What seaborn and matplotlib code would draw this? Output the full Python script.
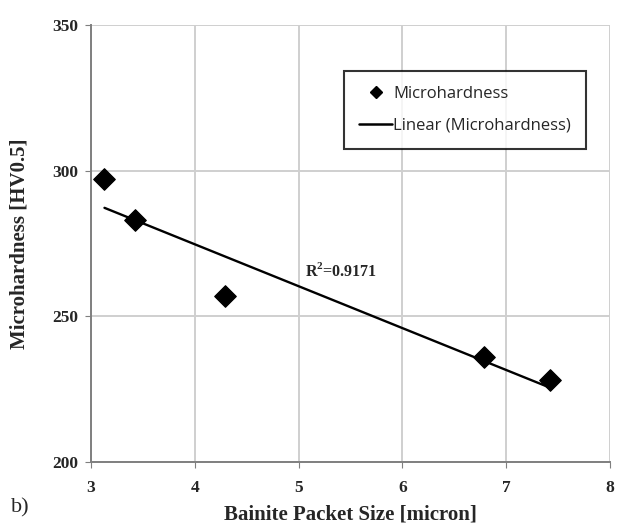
import numpy as np
import pandas as pd
import matplotlib
matplotlib.use("Agg")
import matplotlib.pyplot as plt
import seaborn as sns
from matplotlib.lines import Line2D

# Data
packet_size = [3.13, 3.42, 4.29, 6.79, 7.42]
microhardness = [297, 283, 257, 236, 228]
x_ticks = [3, 4, 5, 6, 7, 8]
y_ticks = [200, 250, 300, 350]
r2_text = "R$^2$=0.9171"

df = pd.DataFrame({"size": packet_size, "hv": microhardness})

sns.set_style("white")
plt.rcParams["font.family"] = ["Liberation Serif", "DejaVu Serif"]
plt.rcParams["mathtext.fontset"] = "custom"
plt.rcParams["mathtext.rm"] = "Liberation Serif:bold"
plt.rcParams["mathtext.bf"] = "Liberation Serif:bold"

fig = plt.figure(figsize=(6.21, 5.29), dpi=100)
ax = fig.add_axes([0.1465, 0.1267, 0.8358, 0.826])

sns.regplot(data=df, x="size", y="hv", ax=ax, ci=None, scatter=False,
            line_kws=dict(color="black", lw=1.7), truncate=True)
sns.scatterplot(data=df, x="size", y="hv", ax=ax, marker="D", s=120,
                color="black", edgecolor="black", zorder=5)

ax.set_xlim(3, 8)
ax.set_ylim(200, 350)
ax.set_xticks(x_ticks)
ax.set_yticks(y_ticks)
ax.grid(True, color="#cfcfcf", lw=1.4)
ax.set_axisbelow(True)
for s in ["top", "right"]:
    ax.spines[s].set_visible(False)
for s in ["left", "bottom"]:
    ax.spines[s].set_color("#7f7f7f")
    ax.spines[s].set_linewidth(1.4)
ax.tick_params(axis="both", which="both", length=4, color="#7f7f7f",
               direction="out", left=True, bottom=True)
ax.tick_params(axis="y", pad=5)
ax.tick_params(axis="x", pad=9)
for lab in ax.get_xticklabels() + ax.get_yticklabels():
    lab.set_fontweight("bold")
    lab.set_fontsize(12.5)

ax.set_xlabel("Bainite Packet Size [micron]", fontsize=15, fontweight="bold")
ax.set_ylabel("Microhardness [HV0.5]", fontsize=15, fontweight="bold")
ax.xaxis.set_label_coords(0.5, -0.121)
ax.xaxis.label.set_va("center")
ax.yaxis.set_label_coords(-0.137, 0.5)
ax.yaxis.label.set_va("center")

ax.text(5.06, 265.5, r2_text, fontsize=11.5, fontweight="bold", va="center", ha="left")

fig.text(0.018, 0.04, "b)", fontsize=16, ha="left", va="center")

handles = [
    Line2D([], [], marker="D", color="black", linestyle="None", markersize=6.5),
    Line2D([], [], color="black", lw=1.8),
]
leg = ax.legend(handles, ["Microhardness", "Linear (Microhardness)"],
                loc="upper left", bbox_to_anchor=(0.4875, 0.895),
                frameon=True, fancybox=False, edgecolor="black",
                prop={"family": "Open Sans", "size": 12},
                borderpad=0.9, labelspacing=0.95, handlelength=2.0,
                handletextpad=0.05, borderaxespad=0)
leg.get_frame().set_linewidth(1.5)

fig.savefig("out.png", dpi=100)
